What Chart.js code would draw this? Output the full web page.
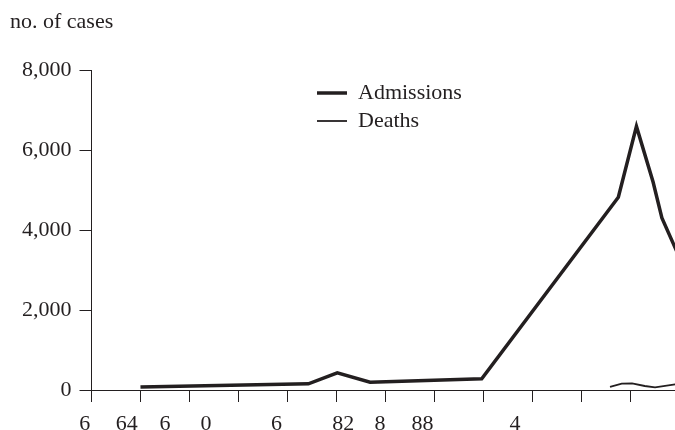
<!DOCTYPE html>
<html>
<head>
<meta charset="utf-8">
<script src="https://cdn.jsdelivr.net/npm/chart.js@4.4.1/dist/chart.umd.min.js"></script>
<style>
  html, body { margin: 0; padding: 0; background: #fff; overflow: hidden; }
  #wrap { width: 675px; height: 430px; overflow: hidden; }
</style>
</head>
<body>
<div id="wrap"><canvas id="chart" width="728" height="440"></canvas></div>
<script>
// x positions are in axis steps (one step = one tick mark)
const admX = [1.0, 4.43, 5.02, 5.69, 7.97, 10.76, 11.13, 11.47, 11.65, 12.1];
const admissions = [75, 155, 430, 195, 280, 4820, 6590, 5200, 4300, 3060];
const deathX = [10.59, 10.83, 11.04, 11.3, 11.51, 11.92, 12.2];
const deaths = [80, 160, 165, 100, 65, 140, 170];

// year labels as they appear under the axis (cut off in the source)
const yearPos = [-0.14, 0.72, 1.5, 2.34, 3.78, 5.14, 5.89, 6.76, 8.65];
const yearText = ["6", "64", "6", "0", "6", "82", "8", "88", "4"];

const ink = "#231f20";
const fontFamily = "'Liberation Serif', 'DejaVu Serif', serif";
const fontSize = 22;

function toPoints(xs, ys) {
    return xs.map((x, i) => ({ x: x, y: ys[i] }));
}

// legend sits inside the plot, move it to its spot after layout
const legendSpot = {
    id: "legendSpot",
    afterLayout(chart) {
        var lg = chart.legend;
        if (!lg) return;
        lg.left = 311;
        lg.top = 76;
    }
};

var ctx = document.getElementById("chart").getContext("2d");
var data = {
    datasets: [
        {
            label: "Admissions",
            data: toPoints(admX, admissions),
            borderColor: ink,
            backgroundColor: ink,
            borderWidth: 3.5,
            pointRadius: 0,
            tension: 0
        },
        {
            label: "Deaths",
            data: toPoints(deathX, deaths),
            borderColor: ink,
            backgroundColor: ink,
            borderWidth: 1.8,
            pointRadius: 0,
            tension: 0
        }
    ]
};

var options = {
    responsive: false,
    animation: false,
    layout: { padding: { left: 10, right: 0, top: 0, bottom: 0 } },
    font: { family: fontFamily, size: fontSize },
    color: ink,
    scales: {
        x: {
            type: "linear",
            position: "bottom",
            min: 0,
            max: 13,
            grid: {
                drawOnChartArea: false,
                color: ink,
                tickLength: 12
            },
            border: { color: ink },
            ticks: { display: false, stepSize: 1 },
            afterFit: (s) => { s.height = 12; }
        },
        years: {
            type: "linear",
            position: "bottom",
            min: 0,
            max: 13,
            grid: { display: false, drawTicks: false },
            border: { display: false },
            afterBuildTicks: (s) => { s.ticks = yearPos.map(v => ({ value: v })); },
            ticks: {
                autoSkip: false,
                maxRotation: 0,
                padding: 9,
                color: ink,
                font: { family: fontFamily, size: fontSize },
                callback: (v, i) => yearText[i]
            },
            afterFit: (s) => { s.height = 38; }
        },
        y: {
            min: 0,
            max: 8000,
            grid: {
                drawOnChartArea: false,
                color: ink,
                tickLength: 12
            },
            border: { color: ink },
            ticks: {
                stepSize: 2000,
                padding: 8,
                color: ink,
                font: { family: fontFamily, size: fontSize }
            },
            afterFit: (s) => { s.width = 81.5; }
        }
    },
    plugins: {
        title: {
            display: true,
            text: "no. of cases",
            align: "start",
            color: ink,
            font: { family: fontFamily, size: fontSize, weight: "normal" },
            padding: { top: 8.8, bottom: 34.8 }
        },
        legend: {
            display: true,
            position: "chartArea",
            align: "start",
            labels: {
                usePointStyle: true,
                pointStyle: "line",
                pointStyleWidth: 30,
                padding: 6,
                color: ink,
                font: { family: fontFamily, size: fontSize }
            }
        },
        tooltip: { enabled: false }
    }
};

new Chart(ctx, {
    type: "line",
    data: data,
    options: options,
    plugins: [legendSpot]
});
</script>
</body>
</html>
